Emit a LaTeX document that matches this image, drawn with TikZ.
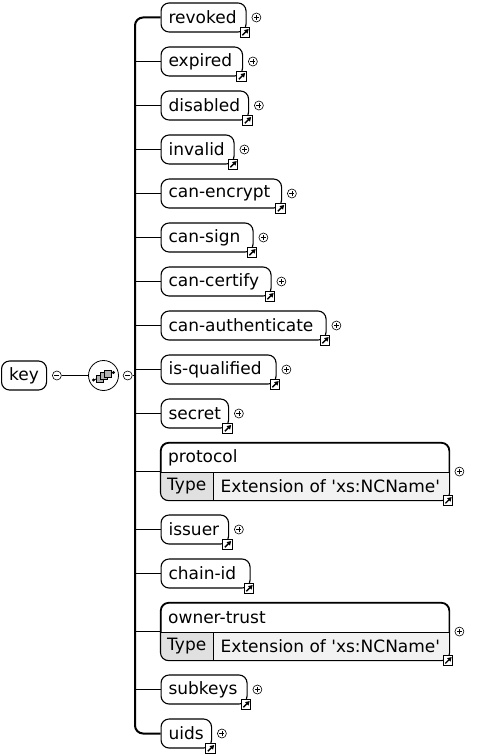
\documentclass[tikz,border=0pt]{standalone}
\usepackage{fontspec}
\setmainfont{DejaVu Sans}
\usetikzlibrary{positioning, calc, arrows.meta}
\definecolor{typefill}{gray}{0.88}
\definecolor{extfill}{gray}{0.95}
\tikzset{
	elem/.style={
		draw,
		rounded corners=8pt,
		line width=1.1pt,
		anchor=west,
		inner xsep=7.5pt,
		inner ysep=0pt,
		minimum height=29pt,
		align=left,
		font=\fontsize{17}{19}\selectfont
	},
	cell/.style={
		inner sep=0pt,
		font=\fontsize{17}{19}\selectfont
	},
	branch/.style={line width=1.6pt},
	busline/.style={line width=2pt, rounded corners=8pt},
	expand/.style={
		circle, draw, line width=0.6pt, inner sep=0pt, minimum size=9pt,
		path picture={
			\draw[line width=0.6pt] ([xshift=-2.5pt]path picture bounding box.center) -- ([xshift=2.5pt]path picture bounding box.center)
				([yshift=-2.5pt]path picture bounding box.center) -- ([yshift=2.5pt]path picture bounding box.center);
		}
	},
	collapse/.style={
		circle, draw, line width=0.6pt, inner sep=0pt, minimum size=9pt,
		path picture={
			\draw[line width=0.6pt] ([xshift=-2.5pt]path picture bounding box.center) -- ([xshift=2.5pt]path picture bounding box.center);
		}
	},
	refbox/.style={
		draw, fill=white, line width=0.8pt, inner sep=0pt, minimum size=9.5pt,
		path picture={
			\draw[line width=1.3pt, -{Triangle[length=4pt,width=4.5pt]}] ([shift={(2pt,2pt)}]path picture bounding box.south west) -- ([shift={(-1.2pt,-1.2pt)}]path picture bounding box.north east);
		}
	},
	seq/.style={circle, draw, line width=0.8pt, minimum size=30pt, inner sep=0pt}
}

\begin{document}
\begin{tikzpicture}[x=1pt, y=-1pt]
	\useasboundingbox (0,0) rectangle (480,754);

	% root element and sequence
	\node[elem, text width=30pt] (key) at (1,375.5) {key};
	\node[collapse, right=5pt of key] (key-minus) {};
	\node[seq] (seq) at (103.5,375.5) {};
	\node[collapse, right=4pt of seq] (seq-minus) {};
	\coordinate (bus) at (135,375.5);

	% sequence icon
	\draw[line width=0.8pt] ($(seq)+(-10,4.5)$) -- ($(seq)+(10,-3)$);
	\fill ($(seq)+(-10,4.5)$) circle (1.6pt) ($(seq)+(10,-3)$) circle (1.6pt);
	\foreach \dx/\dy in {-4/3, 0/0.5, 4/-2} {
		\draw[fill=gray!60, line width=0.6pt] ($(seq)+(\dx-3.5,\dy-3.5)$) rectangle ++(7,7);
	}

	\draw[branch] (key-minus) -- (seq);
	\draw[branch] (seq-minus) -- (bus);

	% simple child elements (\br: straight branch to the bus)
	\foreach \nm/\txt/\y/\w/\more/\br in {
		revoked/revoked/17.5/85/1/0, expired/expired/61.5/81.5/1/1,
		disabled/disabled/105.5/87.5/1/1, invalid/invalid/149.5/73/1/1,
		encrypt/can-encrypt/193.5/120.5/1/1, sign/can-sign/237.5/92/1/1,
		certify/can-certify/281.5/110/1/1, auth/can-authenticate/325.5/165/1/1,
		qualified/is-qualified/369.5/115/1/1, secret/secret/413.5/67.5/1/1,
		issuer/issuer/529.5/67.5/1/1, chain/chain-id/573.5/89/0/1,
		subkeys/subkeys/689.5/86/1/1, uids/uids/733.5/50.5/1/0} {
		\pgfmathsetmacro\tw{\w-15}
		\node[elem, text width=\tw pt] (\nm) at (160.5,\y) {\txt};
		\ifnum\br=1
			\draw[branch] (\nm.west) -- (\nm.west -| bus);
		\fi
		\node[refbox] at ([xshift=-1.5pt]\nm.south east) {};
		\ifnum\more=1
			\node[expand, right=5pt of \nm] {};
		\fi
	}

	% typed child elements
	\foreach \nm/\txt/\y in {protocol/protocol/442.5, owner/owner-trust/602.5} {
		\node[elem, anchor=north west, minimum height=57pt, text width=273pt] (\nm) at (160.5,\y) {};
		\begin{scope}
			\clip[rounded corners=8pt] (\nm.north west) rectangle (\nm.south east);
			\fill[typefill] ($(\nm.north west)+(0,30)$) rectangle ($(\nm.south west)+(52.5,0)$);
			\fill[extfill] ($(\nm.north west)+(52.5,30)$) rectangle (\nm.south east);
		\end{scope}
		\draw[line width=0.8pt] ($(\nm.north west)+(0,30)$) -- ($(\nm.north east)+(0,30)$)
			($(\nm.north west)+(52.5,30)$) -- ($(\nm.south west)+(52.5,0)$);
		\draw[line width=1.1pt, rounded corners=8pt] (\nm.north west) rectangle (\nm.south east);
		\node[cell, anchor=west] (\nm-name) at ($(\nm.north west)+(7.5,15)$) {\txt};
		\node[cell] (\nm-type) at ($(\nm.north west)+(26.25,44)$) {Type};
		\node[cell, anchor=west] (\nm-ext) at ($(\nm.north west)+(60,44)$) {Extension of \textquotesingle xs:NCName\textquotesingle};
		\draw[branch] (\nm.west) -- (\nm.west -| bus);
		\node[refbox] at ([xshift=-1.5pt]\nm.south east) {};
		\node[expand, right=5pt of \nm] {};
	}

	% vertical bus
	\draw[busline] (revoked.west) -| (bus) |- (uids.west);
\end{tikzpicture}
\end{document}
